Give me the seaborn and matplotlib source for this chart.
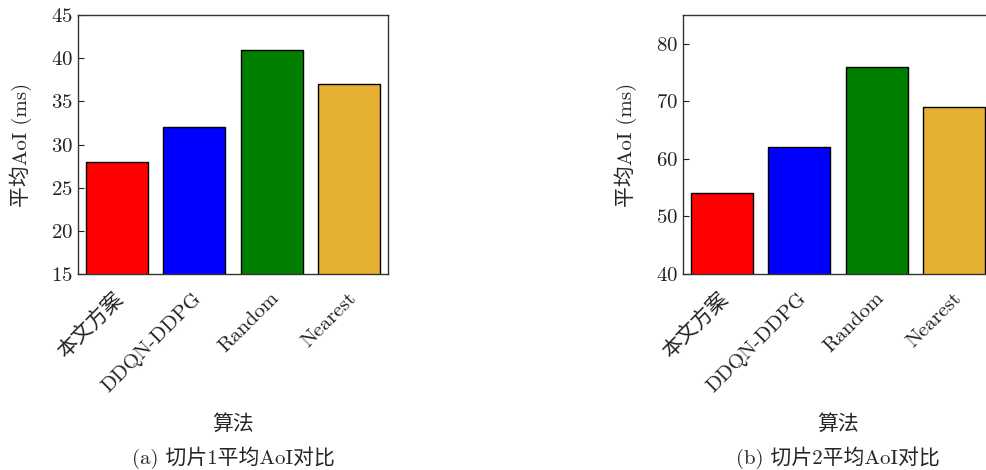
import pandas as pd
import seaborn as sns
import matplotlib.pyplot as plt
import matplotlib.transforms as mtransforms

# Data
algorithms = ["本文方案", "DDQN-DDPG", "Random", "Nearest"]
aoi_slice1 = [28, 32, 41, 37]
aoi_slice2 = [54, 62, 76, 69]
bar_colors = ["#FF0000", "#0000FF", "#007F00", "#E5AF32"]
captions = ["(a) 切片1平均AoI对比", "(b) 切片2平均AoI对比"]

sns.set_style("ticks")
plt.rcParams["font.family"] = ["cmr10", "Noto Sans CJK SC", "DejaVu Serif"]
plt.rcParams["axes.formatter.use_mathtext"] = True
plt.rcParams["axes.unicode_minus"] = False

fig = plt.figure(figsize=(9.86, 4.70), dpi=100)
W, H = 986, 470
fs = 15

# axes boxes in pixels: left, bottom-from-top, width, height
boxes = [(78, 274, 310, 259), (683, 274, 310, 259)]
ylims = [(15, 45), (40, 85)]
yticks = [range(15, 46, 5), range(40, 81, 10)]

for i, values in enumerate([aoi_slice1, aoi_slice2]):
    x0, ybot, w, h = boxes[i]
    ax = fig.add_axes([x0 / W, (H - ybot) / H, w / W, h / H])
    df = pd.DataFrame({"algorithm": algorithms, "aoi": values})
    sns.barplot(data=df, x="algorithm", y="aoi", hue="algorithm",
                palette=bar_colors, legend=False, width=0.8,
                edgecolor="black", linewidth=1.0, ax=ax, saturation=1)
    ax.set_xlim(-0.5, 3.5)
    ax.set_ylim(*ylims[i])
    ax.set_yticks(list(yticks[i]))
    ax.tick_params(direction="in", length=4, width=0.8, labelsize=fs,
                   colors="#222222", top=False, right=False)
    ax.tick_params(axis="x", pad=11)
    shift = mtransforms.ScaledTranslation(11 / 100, 0, fig.dpi_scale_trans)
    for lbl in ax.get_xticklabels():
        lbl.set_rotation(45)
        lbl.set_ha("right")
        lbl.set_transform(lbl.get_transform() + shift)
    for s in ax.spines.values():
        s.set_visible(True)
        s.set_color("#333333")
        s.set_linewidth(1.0)
    ax.set_xlabel("算法", fontsize=fs)
    ax.set_ylabel("平均AoI (ms)", fontsize=fs)
    ax.xaxis.set_label_coords(0.5, -0.54)
    ax.yaxis.set_label_coords(-0.147, 0.5)
    fig.text((x0 + w / 2) / W, 1 - 458 / H, captions[i], ha="center",
             va="center", fontsize=fs)

plt.savefig("out.png", dpi=100)
